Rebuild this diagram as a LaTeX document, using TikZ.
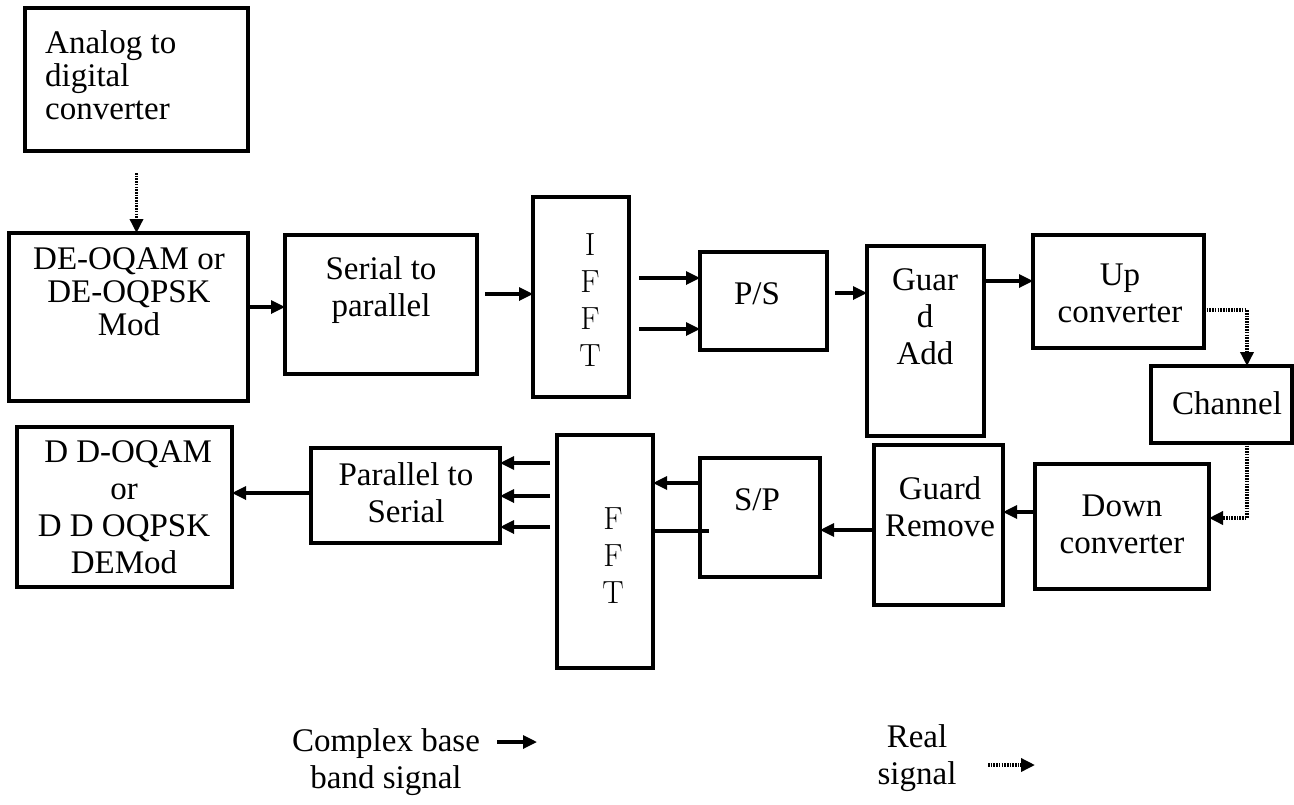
\documentclass[tikz,border=0pt]{standalone}
\usepackage{fontspec}
\setmainfont{Liberation Serif}
\usetikzlibrary{arrows.meta}
\begin{document}
\begin{tikzpicture}[x=1pt,y=-1pt,
  box/.style={draw,line width=4pt,inner sep=0pt,outer sep=0pt},
  txt/.style={align=center,inner sep=0pt,font=\fontsize{33}{37}\selectfont},
  ltr/.style={align=center,inner sep=0pt,font=\fontfamily{lmr}\fontsize{32}{37}\selectfont},
  arr/.style={line width=3.2pt,-{Triangle[length=14pt,width=13pt]}},
  plain/.style={line width=3.2pt},
  dot/.style={line width=3.4pt,dash pattern=on 1.6pt off 1.1pt,-{Triangle[length=14pt,width=13pt]}}
]
\useasboundingbox (0,0) rectangle (1294,804);
% boxes
\node[box,minimum width=223pt,minimum height=143pt] (adc) at (136.5,79) {};
\node[box,minimum width=239pt,minimum height=168pt] (mod) at (128.5,317) {};
\node[box,minimum width=192pt,minimum height=139pt] (s2p) at (381,304.5) {};
\node[box,minimum width=96pt,minimum height=200pt] (ifft) at (581,297) {};
\node[box,minimum width=127pt,minimum height=98pt] (ps) at (763.5,301) {};
\node[box,minimum width=117pt,minimum height=190pt] (gadd) at (925.5,341) {};
\node[box,minimum width=171pt,minimum height=113pt] (up) at (1118.5,291.5) {};
\node[box,minimum width=141pt,minimum height=77pt] (ch) at (1221.5,404.5) {};
\node[box,minimum width=174pt,minimum height=125pt] (down) at (1122,526.5) {};
\node[box,minimum width=129pt,minimum height=160pt] (grem) at (938.5,525) {};
\node[box,minimum width=120pt,minimum height=119pt] (sp) at (760,517.5) {};
\node[box,minimum width=96pt,minimum height=233pt] (fft) at (605,551.5) {};
\node[box,minimum width=189pt,minimum height=95pt] (p2s) at (405.5,495.5) {};
\node[box,minimum width=215pt,minimum height=160pt] (dd) at (124.5,507) {};
% texts
\node[txt,align=left,anchor=west] (tadc) at (45,75) {Analog to\\[-4pt]digital\\[-4pt]converter};
\node[txt] (tmod) at (129,292) {DE-OQAM or\\[-4pt]DE-OQPSK\\[-4pt]Mod};
\node[txt] (ts2p) at (381,290) {Serial to\\parallel};
\node[ltr] (tifft) at (590,300) {I\\F\\F\\T};
\node[txt] (tps) at (757,294) {P/S};
\node[txt] (tgadd) at (925,317) {Guar\\d\\Add};
\node[txt] (tup) at (1120,293) {Up\\converter};
\node[txt] (tch) at (1227,403) {Channel};
\node[txt] (tdown) at (1122,524) {Down\\converter};
\node[txt] (tgrem) at (940,507) {Guard\\Remove};
\node[txt] (tsp) at (757,500) {S/P};
\node[ltr] (tfft) at (613,556) {F\\F\\T};
\node[txt] (tp2s) at (406,493) {Parallel to\\Serial};
\node[txt] (tdd) at (124,507) {\ D D-OQAM\\or\\D D OQPSK\\DEMod};
\node[txt] (tcx) at (386,762) {Complex base\\band signal};
\node[txt] (treal) at (917,758) {Real\\signal};
% legend arrow ends
\coordinate (lc1) at (497,742);
\coordinate (lc2) at (537,742);
\coordinate (lr1) at (988,765);
\coordinate (lr2) at (1035,765);
% connectors
\draw[dot] (adc.south |- 0,173) -- (adc.south |- mod.north);
\draw[arr] (mod.east |- 0,307) -- (s2p.west |- 0,307);
\draw[arr] ([xshift=8pt]s2p.east |- 0,294) -- (ifft.west |- 0,294);
\draw[arr] ([xshift=10pt]ifft.east |- 0,278) -- (ps.west |- 0,278);
\draw[arr] ([xshift=10pt]ifft.east |- 0,329) -- (ps.west |- 0,329);
\draw[arr] ([xshift=8pt]ps.east |- 0,293) -- (gadd.west |- 0,293);
\draw[arr] (gadd.east |- 0,281) -- (up.west |- 0,281);
\draw[dot] (up.east |- 0,310) -| (ch.north -| 1247,0);
\draw[dot] (ch.south -| 1247,0) |- (down.east |- 0,518);
\draw[arr] (down.west |- 0,512) -- (grem.east |- 0,512);
\draw[arr] (grem.west |- 0,530) -- (sp.east |- 0,530);
\draw[arr] (sp.west |- 0,483) -- (fft.east |- 0,483);
\draw[plain] ([xshift=9pt]sp.west |- 0,531) -- (fft.east |- 0,531);
\draw[arr] ([xshift=-7pt]fft.west |- 0,463) -- (p2s.east |- 0,463);
\draw[arr] ([xshift=-7pt]fft.west |- 0,496) -- (p2s.east |- 0,496);
\draw[arr] ([xshift=-7pt]fft.west |- 0,527) -- (p2s.east |- 0,527);
\draw[arr] (p2s.west |- 0,493) -- (dd.east |- 0,493);
\draw[arr] (lc1) -- (lc2);
\draw[dot] (lr1) -- (lr2);
\end{tikzpicture}
\end{document}
